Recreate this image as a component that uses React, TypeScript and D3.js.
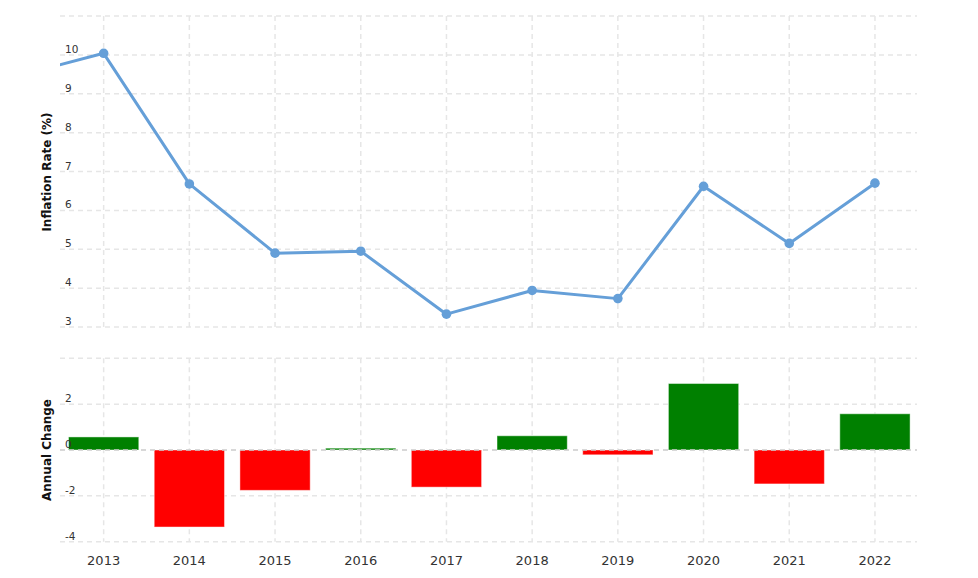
import React from "react";
import * as d3 from "d3";

// inflation rate (%) by year, 2012 is only there so the line enters from the left edge
const lineYears: number[] = [2012, 2013, 2014, 2015, 2016, 2017, 2018, 2019, 2020, 2021, 2022];
const inflation: number[] = [9.46, 10.04, 6.68, 4.9, 4.95, 3.33, 3.94, 3.73, 6.62, 5.15, 6.7];

// annual change bars
const barYears: number[] = [2013, 2014, 2015, 2016, 2017, 2018, 2019, 2020, 2021, 2022];
const annualChange: number[] = [0.57, -3.36, -1.76, 0.08, -1.62, 0.62, -0.21, 2.9, -1.48, 1.58];

const topTicks: number[] = [3, 4, 5, 6, 7, 8, 9, 10];
const bottomTicks: number[] = [-4, -2, 0, 2];

const W = 978;
const H = 578;
const left = 60;
const right = 917;
const font = "'DejaVu Sans', Verdana, sans-serif";
const gridColor = "#e6e6e6";
const lineColor = "#659fd8";

const App: React.FC = () => {
  const x = d3.scaleLinear().domain([2012.5, 2022.5]).range([left + 0.8, right + 0.8]);
  const yTop = d3.scaleLinear().domain([3, 11]).range([327, 16]);
  const yBot = d3.scaleLinear().domain([-4, 4]).range([541.7, 358.3]);

  const pts: [number, number][] = lineYears.map((yr, i) => [yr, inflation[i]]);
  const line = d3
    .line<[number, number]>()
    .x((d) => x(d[0]))
    .y((d) => yTop(d[1]));

  const topGridY = d3.range(3, 12);
  const botGridY = d3.range(-4, 5, 2);
  const halfBar = 0.41;

  return (
    <svg
      width={W}
      height={H}
      style={{ position: "absolute", left: 0, top: 0, background: "#fff" }}
      fontFamily={font}
    >
      <defs>
        <clipPath id="plotClip">
          <rect x={left} y={0} width={right - left} height={340} />
        </clipPath>
      </defs>

      {/* top panel grid */}
      <g stroke={gridColor} strokeWidth={1.5} strokeDasharray="5,4">
        {topGridY.map((v) => (
          <line key={"th" + v} x1={left} x2={right} y1={yTop(v)} y2={yTop(v)} />
        ))}
        {barYears.map((yr) => (
          <line key={"tv" + yr} x1={x(yr)} x2={x(yr)} y1={yTop(11)} y2={yTop(3)} />
        ))}
      </g>

      {/* bottom panel grid */}
      <g stroke={gridColor} strokeWidth={1.5} strokeDasharray="5,4">
        {botGridY.filter((v) => v !== 0).map((v) => (
          <line key={"bh" + v} x1={left} x2={right} y1={yBot(v)} y2={yBot(v)} />
        ))}
        {barYears.map((yr) => (
          <line key={"bv" + yr} x1={x(yr)} x2={x(yr)} y1={yBot(4)} y2={yBot(-4)} />
        ))}
      </g>

      {/* bars */}
      {barYears.map((yr, i) => {
        const v = annualChange[i];
        const y0 = yBot(Math.max(0, v));
        const y1 = yBot(Math.min(0, v));
        return (
          <rect
            key={"bar" + yr}
            x={x(yr - halfBar)}
            y={y0}
            width={x(yr + halfBar) - x(yr - halfBar)}
            height={Math.max(1.5, y1 - y0)}
            fill={v >= 0 ? "#008000" : "#ff0000"}
            stroke="#ffffff"
            strokeOpacity={0.45}
            strokeWidth={1}
          />
        );
      })}

      {/* zero line */}
      <line
        x1={left}
        x2={right}
        y1={yBot(0)}
        y2={yBot(0)}
        stroke="#cccccc"
        strokeWidth={1.5}
        strokeDasharray="5,4"
      />

      {/* inflation line */}
      <g clipPath="url(#plotClip)">
        <path d={line(pts) ?? ""} fill="none" stroke={lineColor} strokeWidth={3} strokeLinejoin="round" />
      </g>
      {pts.slice(1).map((d) => (
        <circle key={"pt" + d[0]} cx={x(d[0])} cy={yTop(d[1])} r={4.8} fill={lineColor} />
      ))}

      {/* y tick labels */}
      <g fontSize={10.5} fill="#333">
        {topTicks.map((v) => (
          <text key={"tt" + v} x={65} y={yTop(v) - 2}>
            {v}
          </text>
        ))}
        {bottomTicks.map((v) => (
          <text key={"bt" + v} x={65} y={yBot(v) - 2}>
            {v}
          </text>
        ))}
      </g>

      {/* x tick labels */}
      <g fontSize={13} fill="#333" textAnchor="middle">
        {barYears.map((yr) => (
          <text key={"xl" + yr} x={x(yr)} y={565}>
            {yr}
          </text>
        ))}
      </g>

      {/* axis titles */}
      <text
        transform={`translate(51,172) rotate(-90)`}
        textAnchor="middle"
        fontSize={12}
        fontWeight="bold"
        fill="#111"
      >
        Inflation Rate (%)
      </text>
      <text
        transform={`translate(51,450) rotate(-90)`}
        textAnchor="middle"
        fontSize={12}
        fontWeight="bold"
        fill="#111"
      >
        Annual Change
      </text>
    </svg>
  );
};

export default App;
